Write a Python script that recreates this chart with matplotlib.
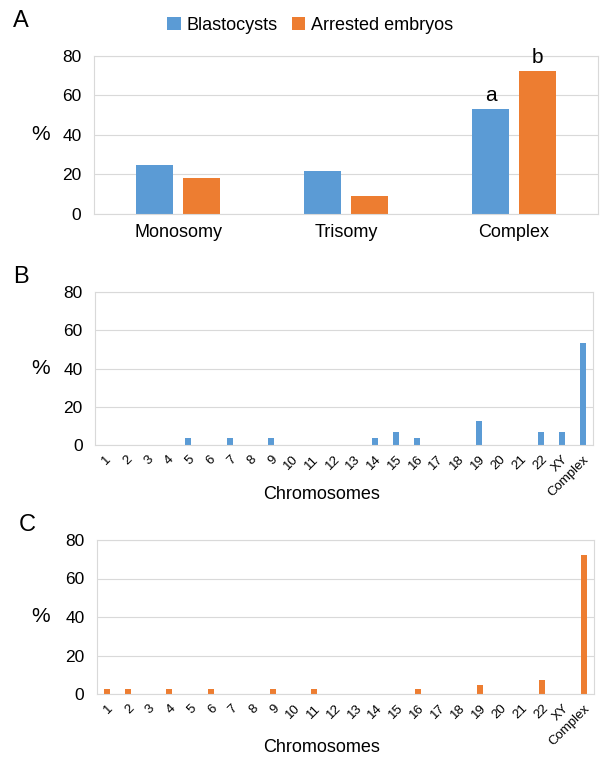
import matplotlib
matplotlib.use("Agg")
from matplotlib import pyplot as plt
import numpy as np

# panel A
groups = ["Monosomy", "Trisomy", "Complex"]
blasto = [25, 21.9, 53.2]
arrested = [18, 9.2, 72.4]

# panels B and C
chroms = [str(i) for i in range(1, 23)] + ["XY", "Complex"]
blasto_chr = [0, 0, 0, 0, 3.4, 0, 3.4, 0, 3.4, 0, 0, 0, 0, 3.4, 6.9, 3.4,
              0, 0, 12.5, 0, 0, 6.9, 6.9, 53.2]
arrested_chr = [2.4, 2.4, 0, 2.4, 0, 2.4, 0, 0, 2.4, 0, 2.4, 0, 0, 0, 0, 2.4,
                0, 0, 4.8, 0, 0, 7.1, 0, 72.4]

BLUE = "#5B9BD5"
ORANGE = "#ED7D31"
GRID = "#D9D9D9"

plt.rcParams['font.family'] = ['Liberation Sans', 'DejaVu Sans']

W, H = 600.0, 767.0


def style_axes(ax, l, r, top, bot):
    ax.set_ylim(0, 80)
    ax.set_yticks(range(0, 81, 20))
    ax.yaxis.grid(True, color=GRID, linewidth=0.8)
    ax.set_axisbelow(True)
    for s in ax.spines.values():
        s.set_color(GRID)
        s.set_linewidth(0.8)
    ax.tick_params(axis='y', length=0, labelsize=12.5, pad=9)
    ax.tick_params(axis='x', length=0)
    ax.set_ylabel("%", rotation=0, fontsize=15, va='center', ha='center')
    # "%" sits at about x=41 px in the figure
    ax.yaxis.set_label_coords((41 - l) / (r - l), 0.5)


def main():
    fig = plt.figure(figsize=(6, 7.67), dpi=100)

    def ax_at(l, r, top, bot):
        ax = fig.add_axes([l / W, 1 - bot / H, (r - l) / W, (bot - top) / H])
        style_axes(ax, l, r, top, bot)
        return ax

    # --- A ---
    axA = ax_at(94, 598, 56, 214)
    x = np.arange(len(groups))
    w = 0.22
    axA.bar(x - 0.14, blasto, w, color=BLUE, label="Blastocysts")
    axA.bar(x + 0.14, arrested, w, color=ORANGE, label="Arrested embryos")
    axA.set_xlim(-0.5, 2.5)
    axA.set_xticks(x)
    axA.set_xticklabels(groups, fontsize=13)
    axA.tick_params(axis='x', pad=7)
    axA.text(x[2] - 0.14, blasto[2] + 2, "a", ha='center', va='bottom', fontsize=15)
    axA.text(x[2] + 0.14, arrested[2] + 2, "b", ha='center', va='bottom', fontsize=15)
    fig.legend(*axA.get_legend_handles_labels(), loc='center',
               bbox_to_anchor=(310 / W, 1 - 25 / H), ncol=2, frameon=False,
               fontsize=13, handlelength=0.75, handleheight=0.75, handletextpad=0.3,
               columnspacing=0.8)
    fig.text(13 / W, 1 - 21 / H, "A", fontsize=17, va='center')

    # --- B and C ---
    xc = np.arange(len(chroms))
    panels = [
        (95, 593, 292, 445, blasto_chr, BLUE, "B", 13, 277, 494),
        (97, 594, 540, 694, arrested_chr, ORANGE, "C", 19, 525, 747),
    ]
    for (l, r, top, bot, vals, col, letter, lx, ly, xl_y) in panels:
        ax = ax_at(l, r, top, bot)
        ax.bar(xc, vals, 0.29, color=col)
        ax.set_xlim(-0.5, len(chroms) - 0.5)
        ax.set_xticks(xc)
        ax.set_xticklabels(chroms, rotation=45, fontsize=9.5, ha='right',
                           rotation_mode='anchor')
        ax.tick_params(axis='x', pad=6)
        ax.set_xlabel("Chromosomes", fontsize=13, va='center')
        ax.xaxis.set_label_coords((322 - l) / (r - l), -(xl_y - bot) / (bot - top))
        fig.text(lx / W, 1 - ly / H, letter, fontsize=17, va='center')

    fig.savefig("out.png", dpi=100)


if __name__ == "__main__":
    main()
